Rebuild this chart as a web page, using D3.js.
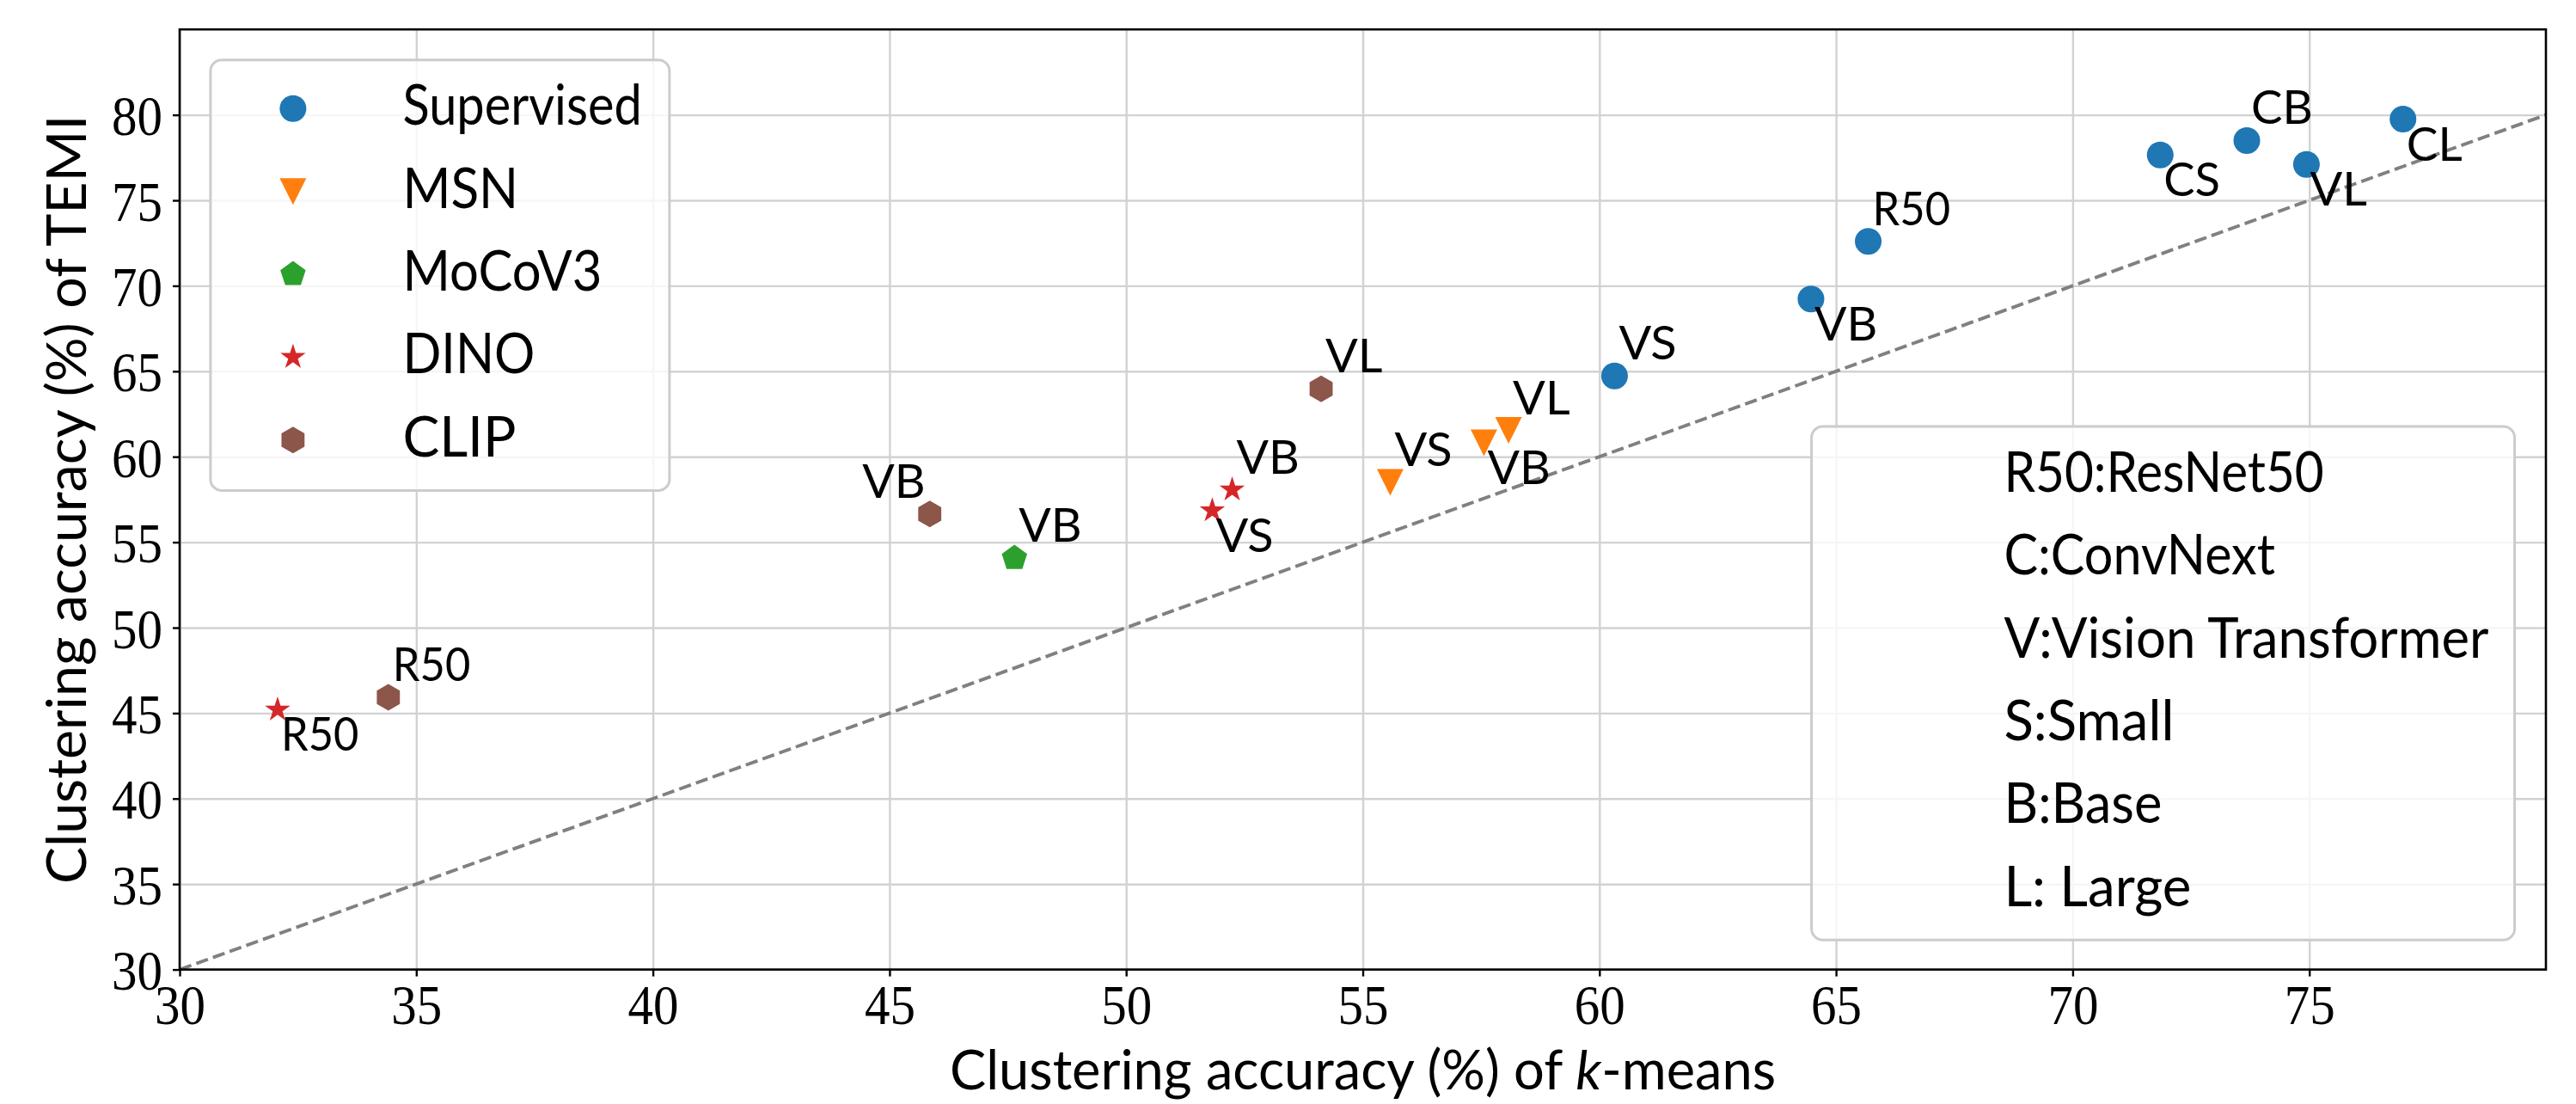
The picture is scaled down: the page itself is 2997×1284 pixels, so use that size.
<!DOCTYPE html>
<html>
<head>
<meta charset="utf-8">
<script src="https://cdn.jsdelivr.net/npm/d3@7"></script>
<style>
  body { margin: 0; background: #fff; }
  svg { display: block; }
</style>
</head>
<body>
<svg id="chart" width="2997" height="1284"></svg>
<script>
// ---- data ----
var groups = ["Supervised", "MSN", "MoCoV3", "DINO", "CLIP"];
var colors = ["#1f77b4", "#ff7f0e", "#2ca02c", "#d62728", "#8c564b"];
var shapes = ["circle", "triangleDown", "pentagon", "star", "hexagon"];

var supervised = [
  {name: "R50", kmeans: 65.68, temi: 72.6},
  {name: "VS",  kmeans: 60.32, temi: 64.73},
  {name: "VB",  kmeans: 64.47, temi: 69.23},
  {name: "CS",  kmeans: 71.85, temi: 77.65},
  {name: "CB",  kmeans: 73.68, temi: 78.5},
  {name: "VL",  kmeans: 74.94, temi: 77.1},
  {name: "CL",  kmeans: 76.98, temi: 79.75}
];
var msn = [
  {name: "VS", kmeans: 55.58, temi: 58.5},
  {name: "VB", kmeans: 57.56, temi: 60.82},
  {name: "VL", kmeans: 58.08, temi: 61.54}
];
var mocov3 = [
  {name: "VB", kmeans: 47.64, temi: 54.07}
];
var dino = [
  {name: "R50", kmeans: 32.07, temi: 45.2},
  {name: "VS",  kmeans: 51.82, temi: 56.85},
  {name: "VB",  kmeans: 52.24, temi: 58.07}
];
var clip = [
  {name: "R50", kmeans: 34.41, temi: 45.92},
  {name: "VB",  kmeans: 45.85, temi: 56.65},
  {name: "VL",  kmeans: 54.12, temi: 63.97}
];
var seriesData = [supervised, msn, mocov3, dino, clip];

var xTicks = [30, 35, 40, 45, 50, 55, 60, 65, 70, 75];
var yTicks = [30, 35, 40, 45, 50, 55, 60, 65, 70, 75, 80];
var abbrevs = ["R50:ResNet50", "C:ConvNext", "V:Vision Transformer", "S:Small", "B:Base", "L: Large"];

// where each point's name sits (default: above right)
var labelBelow = ["Supervised VB", "Supervised CS", "Supervised VL", "Supervised CL", "MSN VB", "DINO R50", "DINO VS"];
var labelLeft = ["CLIP VB"];

// ---- layout ----
var plotL = 209, plotR = 2962, plotT = 34.2, plotB = 1127.6;
var sans = "Lato, 'DejaVu Sans', sans-serif";
var serif = "'Liberation Serif', 'DejaVu Serif', serif";
var R = 15.5;

var x = d3.scaleLinear().domain([30, 80]).range([plotL, plotR]);
var y = d3.scaleLinear().domain([30, 85]).range([plotB, plotT]);

var svg = d3.select("#chart");

// widths of Computer Modern Sans glyphs, used to squeeze the substitute font
var cmss = {
  "B": .667, "C": .639, "D": .722, "E": .597, "I": .278, "L": .542, "M": .875, "N": .708,
  "O": .736, "P": .639, "R": .646, "S": .556, "T": .681, "V": .667,
  "a": .481, "c": .444, "d": .517, "e": .444, "f": .306, "g": .5, "i": .239, "k": .521,
  "l": .239, "m": .794, "n": .517, "o": .5, "p": .517, "r": .342, "s": .383, "t": .361,
  "u": .517, "v": .461, "x": .461, "y": .461,
  "0": .5, "3": .5, "5": .5, ":": .278, " ": .333, "(": .389, ")": .389, "%": .833, "-": .333
};
function cmWidth(s, size) {
  var w = 0;
  for (var c of s) w += (cmss[c] || 0.5);
  return w * size;
}
function fit(sel, size) {
  sel.attr("lengthAdjust", "spacingAndGlyphs")
    .attr("textLength", function () { return cmWidth(this.textContent, size); });
}

function markerPath(shape, r) {
  var pts = [], i, a;
  if (shape === "circle") {
    return "M" + r + ",0A" + r + "," + r + " 0 1 1 " + (-r) + ",0A" + r + "," + r + " 0 1 1 " + r + ",0Z";
  }
  if (shape === "triangleDown") {
    pts = [[-r, -r], [r, -r], [0, r]];
  } else if (shape === "pentagon" || shape === "hexagon") {
    var n = shape === "pentagon" ? 5 : 6;
    for (i = 0; i < n; i++) {
      a = -Math.PI / 2 + i * 2 * Math.PI / n;
      pts.push([r * Math.cos(a), r * Math.sin(a)]);
    }
  } else if (shape === "star") {
    for (i = 0; i < 10; i++) {
      a = -Math.PI / 2 + i * Math.PI / 5;
      var rr = i % 2 ? r * 0.381966 : r;
      pts.push([rr * Math.cos(a), rr * Math.sin(a)]);
    }
  }
  return "M" + pts.map(function (p) { return p[0].toFixed(2) + "," + p[1].toFixed(2); }).join("L") + "Z";
}

// ---- grid ----
svg.append("g")
  .attr("transform", "translate(0," + plotB + ")")
  .call(d3.axisBottom(x).tickValues(xTicks).tickSize(-(plotB - plotT)).tickFormat(""))
  .call(function (g) { g.select(".domain").remove(); })
  .selectAll("line").attr("stroke", "#d2d2d2").attr("stroke-width", 2.4);
svg.append("g")
  .attr("transform", "translate(" + plotL + ",0)")
  .call(d3.axisLeft(y).tickValues(yTicks).tickSize(-(plotR - plotL)).tickFormat(""))
  .call(function (g) { g.select(".domain").remove(); })
  .selectAll("line").attr("stroke", "#d2d2d2").attr("stroke-width", 2.4);

// ---- y = x reference ----
svg.append("line")
  .attr("x1", x(30)).attr("y1", y(30))
  .attr("x2", x(80)).attr("y2", y(80))
  .attr("stroke", "#808080")
  .attr("stroke-width", 3.9)
  .attr("stroke-dasharray", "14.4,6.2");

// ---- markers and names ----
seriesData.forEach(function (data, gi) {
  var g = svg.append("g");
  g.selectAll("path")
    .data(data)
    .join("path")
    .attr("d", markerPath(shapes[gi], R))
    .attr("transform", function (d) { return "translate(" + x(d.kmeans) + "," + y(d.temi) + ")"; })
    .attr("fill", colors[gi]);

  g.selectAll("text")
    .data(data)
    .join("text")
    .each(function (d) {
      var key = groups[gi] + " " + d.name;
      var t = d3.select(this);
      if (labelLeft.indexOf(key) >= 0) {
        t.attr("x", x(d.kmeans) - 5).attr("y", y(d.temi) - 19).attr("text-anchor", "end");
      } else if (labelBelow.indexOf(key) >= 0) {
        t.attr("x", x(d.kmeans) + 4).attr("y", y(d.temi) + 48);
      } else {
        t.attr("x", x(d.kmeans) + 5).attr("y", y(d.temi) - 19);
      }
    })
    .attr("font-family", sans)
    .attr("font-size", 55)
    .attr("fill", "#000")
    .text(function (d) { return d.name; })
    .call(fit, 55);
});

// ---- axes ----
var xAxis = svg.append("g")
  .attr("transform", "translate(0," + plotB + ")")
  .call(d3.axisBottom(x).tickValues(xTicks).tickSize(8).tickFormat(d3.format("d")));
var yAxis = svg.append("g")
  .attr("transform", "translate(" + plotL + ",0)")
  .call(d3.axisLeft(y).tickValues(yTicks).tickSize(8).tickFormat(d3.format("d")));

[xAxis, yAxis].forEach(function (ax) {
  ax.select(".domain").remove();
  ax.selectAll(".tick line").attr("stroke", "#000").attr("stroke-width", 2.4);
  ax.selectAll("text")
    .attr("font-family", serif)
    .attr("font-size", 66)
    .attr("fill", "#000")
    .attr("lengthAdjust", "spacingAndGlyphs")
    .attr("textLength", function () { return this.textContent.length * 29.5; });
});
xAxis.selectAll("text").attr("y", 63.5).attr("dy", 0);
yAxis.selectAll("text").attr("x", -20).attr("dy", 23);

// frame
svg.append("rect")
  .attr("x", plotL).attr("y", plotT)
  .attr("width", plotR - plotL).attr("height", plotB - plotT)
  .attr("fill", "none").attr("stroke", "#000").attr("stroke-width", 2.6);

// axis titles
var xt = svg.append("text")
  .attr("x", (plotL + plotR) / 2).attr("y", 1267)
  .attr("text-anchor", "middle")
  .attr("font-family", sans).attr("font-size", 63).attr("fill", "#000");
xt.append("tspan").text("Clustering accuracy (%) of ");
xt.append("tspan").attr("font-style", "italic").text("k");
xt.append("tspan").text("-means");
fit(xt, 64);

var yt = svg.append("text")
  .attr("transform", "translate(100," + (plotT + plotB) / 2 + ") rotate(-90)")
  .attr("text-anchor", "middle")
  .attr("font-family", sans).attr("font-size", 63).attr("fill", "#000")
  .text("Clustering accuracy (%) of TEMI");
fit(yt, 64);

// ---- legends ----
var rowH = 96.35;
function legendBox(bx, by, bw, n) {
  svg.append("rect")
    .attr("x", bx).attr("y", by)
    .attr("width", bw).attr("height", n * rowH + 19)
    .attr("rx", 13).attr("ry", 13)
    .attr("fill", "#fff").attr("fill-opacity", 0.8)
    .attr("stroke", "#cccccc").attr("stroke-width", 3);
}

var lx = 244.9, ly = 69.7;
legendBox(lx, ly, 534, groups.length);
var leg = svg.append("g");
leg.selectAll("path")
  .data(groups)
  .join("path")
  .attr("d", function (d, i) { return markerPath(shapes[i], R); })
  .attr("transform", function (d, i) { return "translate(" + (lx + 96) + "," + (ly + 56.6 + i * rowH) + ")"; })
  .attr("fill", function (d, i) { return colors[i]; });
leg.selectAll("text")
  .data(groups)
  .join("text")
  .attr("x", lx + 223.5)
  .attr("y", function (d, i) { return ly + 75.7 + i * rowH; })
  .attr("font-family", sans).attr("font-size", 65).attr("fill", "#000")
  .text(function (d) { return d; })
  .call(fit, 63);

var ix = 2107.6, iy = 496.1;
legendBox(ix, iy, 818, abbrevs.length);
svg.append("g").selectAll("text")
  .data(abbrevs)
  .join("text")
  .attr("x", ix + 223.8)
  .attr("y", function (d, i) { return iy + 75.7 + i * rowH; })
  .attr("font-family", sans).attr("font-size", 65).attr("fill", "#000")
  .attr("xml:space", "preserve")
  .text(function (d) { return d; })
  .call(fit, 63);
</script>
</body>
</html>
